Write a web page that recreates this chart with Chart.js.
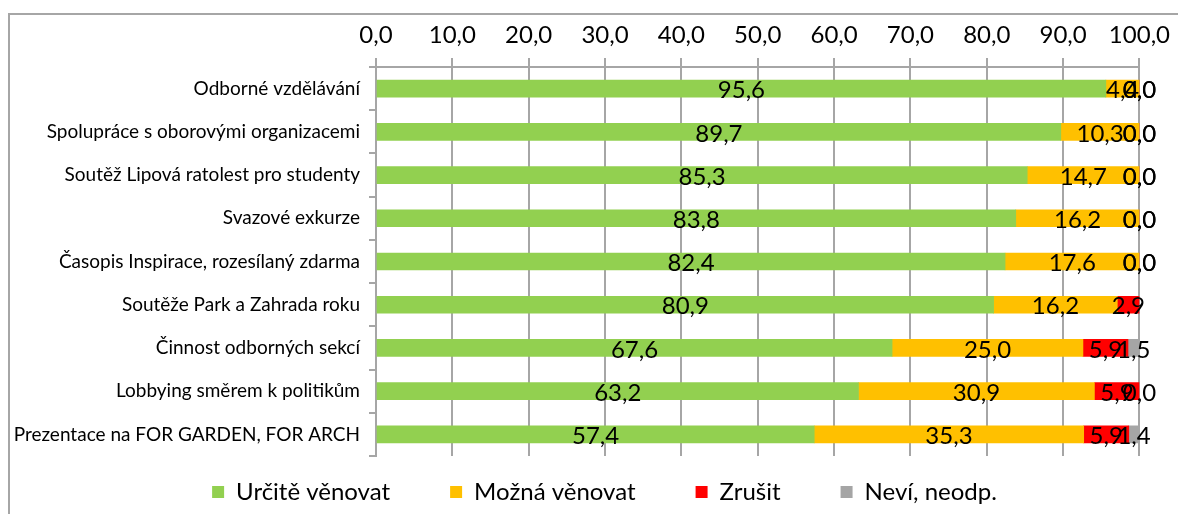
<!DOCTYPE html>
<html>
<head>
<meta charset="utf-8">
<script src="https://cdn.jsdelivr.net/npm/chart.js@4"></script>
<style>
  html, body { margin: 0; padding: 0; background: #fff; overflow: hidden; }
  #frame { position: absolute; left: 8px; top: 13px; width: 1200px; height: 520px; border: 2px solid #a6a6a6; }
  #wrap { position: absolute; left: 0; top: 0; width: 1178px; height: 514px; }
</style>
</head>
<body>
<div id="frame"></div>
<div id="wrap"><canvas id="chart"></canvas></div>
<script>
const categories = [
  'Odborné vzdělávání',
  'Spolupráce s oborovými organizacemi',
  'Soutěž Lipová ratolest pro studenty',
  'Svazové exkurze',
  'Časopis Inspirace, rozesílaný zdarma',
  'Soutěže Park a Zahrada roku',
  'Činnost odborných sekcí',
  'Lobbying směrem k politikům',
  'Prezentace na FOR GARDEN, FOR ARCH'
]
const urciteVenovat = [95.6, 89.7, 85.3, 83.8, 82.4, 80.9, 67.6, 63.2, 57.4]
const moznaVenovat = [4.4, 10.3, 14.7, 16.2, 17.6, 16.2, 25.0, 30.9, 35.3]
const zrusit = [0.0, 0.0, 0.0, 0.0, 0.0, 2.9, 5.9, 5.9, 5.9]
const nevi = [0.0, 0.0, 0.0, 0.0, 0.0, null, 1.5, 0.0, 1.4]

const fontFamily = 'Lato, "Open Sans", sans-serif'
const fmt = (v) => v.toFixed(1).replace('.', ',')
// wider gap between legend items (two em spaces), last item kept as is
const legendGap = '\u2003\u2003'

// draws the value of every segment in its middle
const valueLabels = {
  id: 'valueLabels',
  afterDatasetsDraw(chart) {
    const ctx = chart.ctx
    ctx.save()
    ctx.font = `24px ${fontFamily}`
    ctx.fillStyle = '#000'
    ctx.textAlign = 'center'
    ctx.textBaseline = 'middle'
    chart.data.datasets.forEach((ds, i) => {
      const meta = chart.getDatasetMeta(i)
      meta.data.forEach((bar, j) => {
        const v = ds.data[j]
        if (v === null || v === undefined) return
        ctx.fillText(fmt(v), (bar.x + bar.base) / 2, bar.y + 2)
      })
    })
    ctx.restore()
  }
}

// legend sits a bit right of the canvas centre
const legendShift = {
  id: 'legendShift',
  afterLayout(chart) {
    chart.legend.left += 34
    chart.legend.right += 34
  }
}

const chart = new Chart(document.getElementById('chart'), {
  type: 'bar',
  data: {
    labels: categories,
    datasets: [
      { label: 'Určitě věnovat', data: urciteVenovat, backgroundColor: '#92D050' },
      { label: 'Možná věnovat', data: moznaVenovat, backgroundColor: '#FFC000' },
      { label: 'Zrušit', data: zrusit, backgroundColor: '#FF0000' },
      { label: 'Neví, neodp.', data: nevi, backgroundColor: '#A5A5A5' }
    ]
  },
  options: {
    indexAxis: 'y',
    responsive: true,
    maintainAspectRatio: false,
    animation: false,
    datasets: { bar: { categoryPercentage: 1, barThickness: 17 } },
    layout: { padding: { top: 10, right: 37, bottom: 0, left: 0 } },
    scales: {
      x: {
        position: 'top',
        stacked: true,
        min: 0,
        max: 100,
        afterFit: (scale) => { scale.height = 57 },
        ticks: {
          stepSize: 10,
          color: '#000',
          padding: 8,
          font: { family: fontFamily, size: 24 },
          callback: (v) => fmt(v)
        },
        grid: { color: '#a6a6a6', lineWidth: 2, tickLength: 9 },
        border: { display: true, color: '#a6a6a6', width: 2 }
      },
      y: {
        stacked: true,
        afterFit: (scale) => { scale.width = 376 },
        ticks: {
          color: '#000',
          padding: 9,
          font: { family: fontFamily, size: 19 }
        },
        grid: { offset: true, drawOnChartArea: false, tickLength: 7, color: '#a6a6a6', lineWidth: 2 },
        border: { display: true, color: '#a6a6a6', width: 2 }
      }
    },
    plugins: {
      legend: {
        position: 'bottom',
        labels: {
          color: '#000',
          boxWidth: 12,
          boxHeight: 12,
          padding: 24,
          font: { family: fontFamily, size: 24 },
          generateLabels: (chart) => {
            const items = Chart.defaults.plugins.legend.labels.generateLabels(chart)
            items.forEach((item, i) => {
              if (i < items.length - 1) item.text += legendGap
            })
            return items
          }
        }
      },
      tooltip: { enabled: false }
    }
  },
  plugins: [valueLabels, legendShift]
})
</script>
</body>
</html>
